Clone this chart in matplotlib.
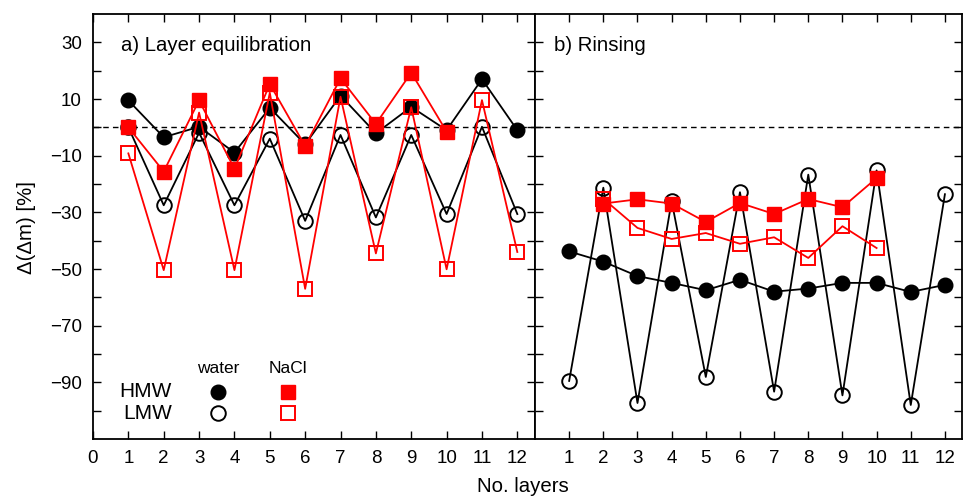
import matplotlib
matplotlib.use("Agg")
import matplotlib.pyplot as plt
import numpy as np

plt.rcParams['font.family'] = ['Liberation Sans', 'DejaVu Sans']

# ---- data ----
layers = [1, 2, 3, 4, 5, 6, 7, 8, 9, 10, 11, 12]
layers_nacl_a = [1, 2, 3, 4, 5, 6, 7, 8, 9, 10]
layers_nacl_b = [2, 3, 4, 5, 6, 7, 8, 9, 10]

# a) Layer equilibration
a_hmw_water = [9.5, -3.5, 0.2, -8.9, 6.9, -6.0, 11.2, -2.1, 7.2, -1.0, 17.0, -1.0]
a_lmw_water = [0.0, -27.5, -1.9, -27.5, -4.0, -33.0, -2.7, -31.8, -2.7, -30.6, 0.2, -30.6]
a_hmw_nacl = [0.0, -15.6, 9.5, -14.6, 15.3, -6.6, 17.3, 1.2, 19.3, -1.5]
a_lmw_nacl = [-9.2, -50.4, 5.2, -50.4, 12.2, -57.0, 10.8, -44.5, 7.1, -50.1, 9.6, -44.0]

# b) Rinsing
b_hmw_water = [-43.8, -47.4, -52.5, -54.9, -57.5, -53.8, -58.0, -56.9, -54.9, -54.9, -58.1, -55.6]
b_lmw_water = [-89.5, -21.3, -97.3, -26.0, -88.1, -22.9, -93.3, -16.7, -94.6, -15.2, -98.0, -23.6]
b_hmw_nacl = [-26.9, -25.4, -26.9, -33.4, -26.7, -30.6, -25.3, -28.2, -17.9]
b_lmw_nacl = [-25.2, -35.5, -39.4, -37.3, -41.1, -38.8, -46.1, -34.9, -42.6]

yticks_major = [-90, -70, -50, -30, -10, 10, 30]
yticks_minor = [-100, -80, -60, -40, -20, 0, 20]
xticks_a = list(range(0, 13))
xticks_b = list(range(1, 13))

RED = '#ff0000'
W, H = 964, 499
fig = plt.figure(figsize=(W / 100, H / 100), dpi=100)
bottom = (H - 439) / H
height = (439 - 14) / H
ax1 = fig.add_axes([93 / W, bottom, (535 - 93) / W, height])
ax2 = fig.add_axes([535 / W, bottom, (962 - 535) / W, height])

ms = 10.5
lw = 1.3
mew = 1.4
TXT = 14.7

def draw(ax, x_w, hw, lwat, x_n, hn, x_ln, ln):
    ax.plot(x_w, hw, color='black', lw=lw, marker='o', ms=ms, zorder=3)
    ax.plot(x_w, lwat, color='black', lw=lw, marker='o', ms=ms,
            mfc='none', mec='black', mew=mew, zorder=4)
    ax.plot(x_n, hn, color=RED, lw=lw, marker='s', ms=ms - 0.5, zorder=5)
    ax.plot(x_ln, ln, color=RED, lw=lw, marker='s', ms=ms - 0.5,
            mfc='none', mec=RED, mew=mew, zorder=6)

draw(ax1, layers, a_hmw_water, a_lmw_water, layers_nacl_a, a_hmw_nacl, layers, a_lmw_nacl)
draw(ax2, layers, b_hmw_water, b_lmw_water, layers_nacl_b, b_hmw_nacl, layers_nacl_b, b_lmw_nacl)

for ax, xt in ((ax1, xticks_a), (ax2, xticks_b)):
    ax.set_xlim(0, 12.5)
    ax.set_ylim(-110, 40)
    ax.axhline(0, color='black', lw=1.0, ls=(0, (4, 3)), zorder=1)
    ax.set_xticks(xt)
    ax.set_yticks(yticks_major)
    ax.set_yticks(yticks_minor, minor=True)
    ax.tick_params(axis='both', which='both', direction='in', top=True, right=True,
                   length=6, width=1, labelsize=13.5, pad=8)
    ax.tick_params(axis='y', which='minor', length=6)
    for s in ax.spines.values():
        s.set_linewidth(1.3)

ax2.tick_params(axis='y', labelleft=False)

ax1.text(0.063, 0.927, 'a) Layer equilibration', transform=ax1.transAxes,
         fontsize=TXT, va='center', ha='left')
ax2.text(0.044, 0.927, 'b) Rinsing', transform=ax2.transAxes,
         fontsize=TXT, va='center', ha='left')

# legend block
ax1.text(0.283, 0.167, 'water', transform=ax1.transAxes, fontsize=12.5, ha='center', va='center')
ax1.text(0.4416, 0.167, 'NaCl', transform=ax1.transAxes, fontsize=12.5, ha='center', va='center')
ax1.text(0.179, 0.1106, 'HMW', transform=ax1.transAxes, fontsize=15, ha='right', va='center')
ax1.text(0.179, 0.061, 'LMW', transform=ax1.transAxes, fontsize=15, ha='right', va='center')
ax1.plot([0.283], [0.1106], transform=ax1.transAxes, marker='o', ms=ms, color='black', ls='none')
ax1.plot([0.283], [0.061], transform=ax1.transAxes, marker='o', ms=ms, mfc='none', mec='black', mew=mew, ls='none')
ax1.plot([0.4416], [0.1106], transform=ax1.transAxes, marker='s', ms=ms - 0.5, color=RED, ls='none')
ax1.plot([0.4416], [0.061], transform=ax1.transAxes, marker='s', ms=ms - 0.5, mfc='none', mec=RED, mew=mew, ls='none')

fig.text(27 / W, (H - 227) / H, 'Δ(Δm) [%]', rotation=90, fontsize=TXT, ha='center', va='center')
fig.text(523 / W, (H - 486) / H, 'No. layers', fontsize=TXT, ha='center', va='center')

fig.savefig('out.png', dpi=100)
